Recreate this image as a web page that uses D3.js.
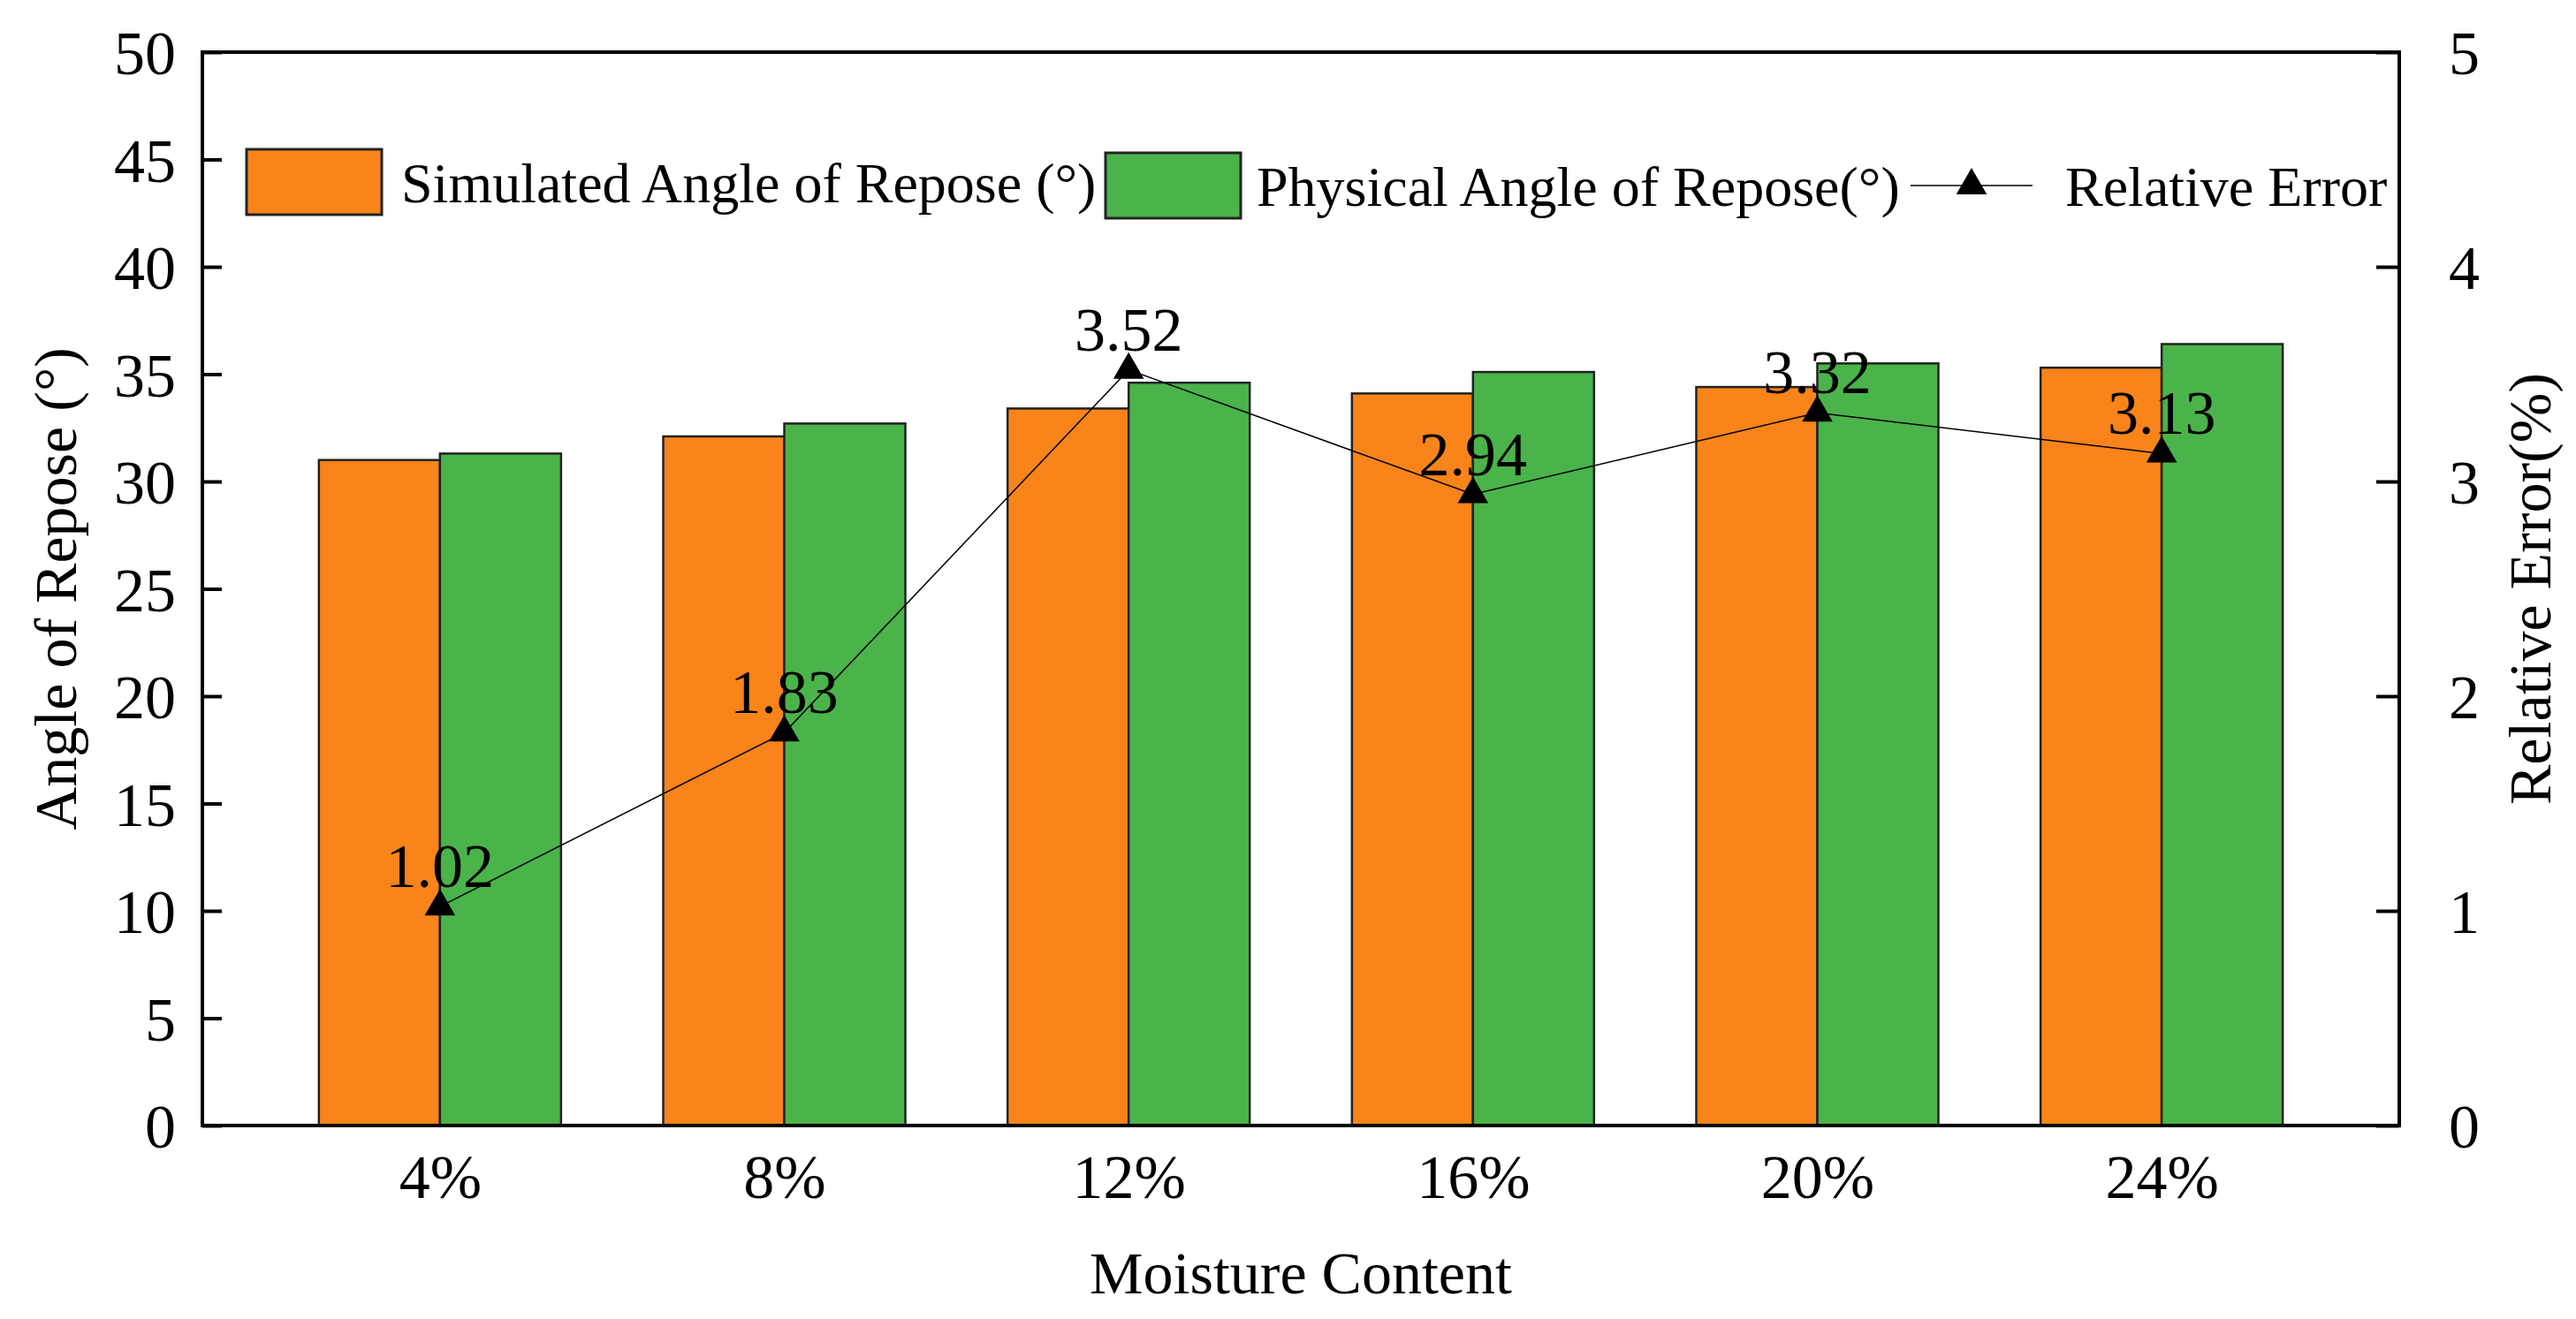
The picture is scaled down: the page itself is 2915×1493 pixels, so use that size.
<!DOCTYPE html>
<html><head><meta charset="utf-8">
<script src="https://cdn.jsdelivr.net/npm/d3@7"></script>
<style>body{margin:0;background:#fff}text{font-family:"Liberation Serif","Times New Roman",serif;fill:#000}</style>
</head><body><svg id="c" width="2915" height="1493"></svg>
<script>
const categories = ["4%","8%","12%","16%","20%","24%"];
const simulated = [31.0, 32.1, 33.4, 34.1, 34.4, 35.3];
const physical = [31.3, 32.7, 34.6, 35.1, 35.5, 36.4];
const relError = [1.02, 1.83, 3.52, 2.94, 3.32, 3.13];
const leftTicks = [0,5,10,15,20,25,30,35,40,45,50];
const rightTicks = [0,1,2,3,4,5];

const L=229,R=2715,T=59,B=1274;
const svg=d3.select("#c");
const x=d3.scalePoint().domain(categories).range([L,R]).padding(0.69);
const y=d3.scaleLinear().domain([0,50]).range([B,T]);
const y2=d3.scaleLinear().domain([0,5]).range([B,T]);
const bw=137;
const fs=70;

const g=svg.append("g");
g.selectAll(".s").data(simulated).join("rect").attr("x",(d,i)=>x(categories[i])-bw).attr("y",d=>y(d)).attr("width",bw).attr("height",d=>B-y(d)).attr("fill","#F8841A").attr("stroke","#222").attr("stroke-width",2.5);
g.selectAll(".p").data(physical).join("rect").attr("x",(d,i)=>x(categories[i])).attr("y",d=>y(d)).attr("width",bw).attr("height",d=>B-y(d)).attr("fill","#4AB44A").attr("stroke","#222").attr("stroke-width",2.5);

// line
const line=d3.line().x((d,i)=>x(categories[i])).y(d=>y2(d));
svg.append("path").datum(relError).attr("d",line).attr("fill","none").attr("stroke","#000").attr("stroke-width",1.5);
const tri=d3.symbol().type(d3.symbolTriangle).size(520);
svg.selectAll(".m").data(relError).join("path").attr("d",tri).attr("transform",(d,i)=>`translate(${x(categories[i])},${y2(d)})`).attr("fill","#000");
svg.selectAll(".lb").data(relError).join("text").attr("x",(d,i)=>x(categories[i])).attr("y",d=>y2(d)-22).attr("text-anchor","middle").attr("font-size",fs).text(d=>d.toFixed(2));

// frame
svg.append("rect").attr("x",L).attr("y",T).attr("width",R-L).attr("height",B-T).attr("fill","none").attr("stroke","#000").attr("stroke-width",4);

// left axis
const la=svg.append("g").attr("transform",`translate(${L},0)`).call(d3.axisLeft(y).tickValues(leftTicks).tickSize(-22).tickPadding(30).tickFormat(d3.format("d")));
la.select(".domain").remove();
la.selectAll("line").attr("stroke","#000").attr("stroke-width",4);
la.selectAll("text").attr("font-size",fs).attr("font-family","Liberation Serif").attr("dy","0.35em");
// right axis
const ra=svg.append("g").attr("transform",`translate(${R},0)`).call(d3.axisRight(y2).tickValues(rightTicks).tickSize(-26).tickPadding(56).tickFormat(d3.format("d")));
ra.select(".domain").remove();
ra.selectAll("line").attr("stroke","#000").attr("stroke-width",4);
ra.selectAll("text").attr("font-size",fs).attr("font-family","Liberation Serif").attr("dy","0.35em");
// bottom axis
const ba=svg.append("g").attr("transform",`translate(0,${B})`).call(d3.axisBottom(x).tickSize(0).tickPadding(32));
ba.select(".domain").remove();
ba.selectAll("text").attr("font-size",fs).attr("font-family","Liberation Serif").attr("dy","0.71em");

// titles
svg.append("text").attr("transform",`translate(62,${(T+B)/2}) rotate(-90)`).attr("text-anchor","middle").attr("dy","0.35em").attr("font-size",68).text("Angle of Repose (°)");
svg.append("text").attr("transform",`translate(2862,${(T+B)/2}) rotate(-90)`).attr("text-anchor","middle").attr("dy","0.35em").attr("font-size",68).text("Relative Error(%)");
svg.append("text").attr("x",(L+R)/2).attr("y",1464).attr("text-anchor","middle").attr("font-size",68).text("Moisture Content");

// legend
const lg=svg.append("g");
lg.append("rect").attr("x",279).attr("y",169).attr("width",153).attr("height",74).attr("fill","#F8841A").attr("stroke","#222").attr("stroke-width",3);
lg.append("text").attr("x",454).attr("y",229).attr("font-size",64).text("Simulated Angle of Repose (°)");
lg.append("rect").attr("x",1251).attr("y",173).attr("width",153).attr("height",74).attr("fill","#4AB44A").attr("stroke","#222").attr("stroke-width",3);
lg.append("text").attr("x",1422).attr("y",233).attr("font-size",64).text("Physical Angle of Repose(°)");
lg.append("line").attr("x1",2162).attr("x2",2300).attr("y1",210).attr("y2",210).attr("stroke","#000").attr("stroke-width",1.5);
lg.append("path").attr("d",tri).attr("transform","translate(2231,210)").attr("fill","#000");
lg.append("text").attr("x",2337).attr("y",233).attr("font-size",64).text("Relative Error");
</script></body></html>
